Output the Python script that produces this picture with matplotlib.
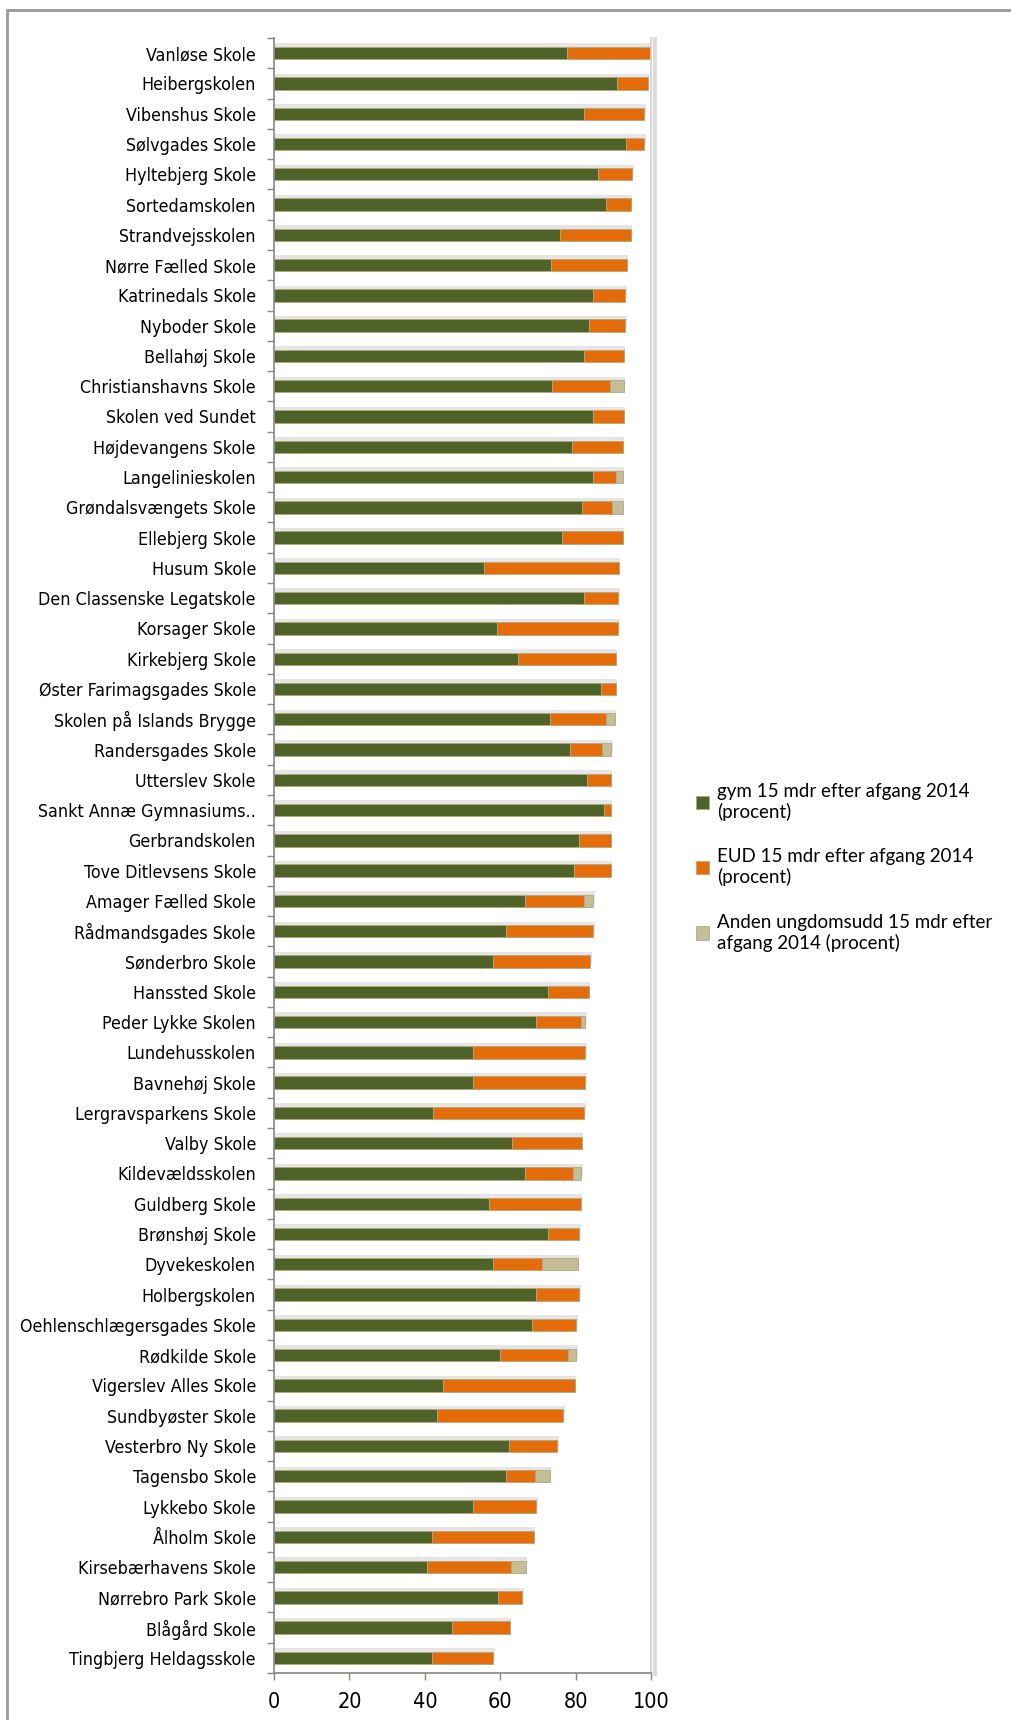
import matplotlib.pyplot as plt
import matplotlib.patheffects as pe
from matplotlib import font_manager
from matplotlib.patches import Patch, Rectangle
import numpy as np

skoler = [
    'Vanløse Skole', 'Heibergskolen', 'Vibenshus Skole', 'Sølvgades Skole',
    'Hyltebjerg Skole', 'Sortedamskolen', 'Strandvejsskolen', 'Nørre Fælled Skole',
    'Katrinedals Skole', 'Nyboder Skole', 'Bellahøj Skole', 'Christianshavns Skole',
    'Skolen ved Sundet', 'Højdevangens Skole', 'Langelinieskolen',
    'Grøndalsvængets Skole', 'Ellebjerg Skole', 'Husum Skole',
    'Den Classenske Legatskole', 'Korsager Skole', 'Kirkebjerg Skole',
    'Øster Farimagsgades Skole', 'Skolen på Islands Brygge', 'Randersgades Skole',
    'Utterslev Skole', 'Sankt Annæ Gymnasiums..', 'Gerbrandskolen',
    'Tove Ditlevsens Skole', 'Amager Fælled Skole', 'Rådmandsgades Skole',
    'Sønderbro Skole', 'Hanssted Skole', 'Peder Lykke Skolen', 'Lundehusskolen',
    'Bavnehøj Skole', 'Lergravsparkens Skole', 'Valby Skole', 'Kildevældsskolen',
    'Guldberg Skole', 'Brønshøj Skole', 'Dyvekeskolen', 'Holbergskolen',
    'Oehlenschlægersgades Skole', 'Rødkilde Skole', 'Vigerslev Alles Skole',
    'Sundbyøster Skole', 'Vesterbro Ny Skole', 'Tagensbo Skole', 'Lykkebo Skole',
    'Ålholm Skole', 'Kirsebærhavens Skole', 'Nørrebro Park Skole', 'Blågård Skole',
    'Tingbjerg Heldagsskole',
]

gym = [77.6, 91.0, 82.1, 93.4, 85.9, 88.1, 75.8, 73.4, 84.7, 83.5, 82.3, 73.7,
       84.7, 79.0, 84.7, 81.7, 76.4, 55.7, 82.1, 59.1, 64.6, 86.8, 73.3, 78.5,
       82.9, 87.6, 80.9, 79.6, 66.6, 61.6, 58.2, 72.6, 69.5, 52.7, 52.7, 42.1,
       63.2, 66.6, 56.9, 72.6, 58.1, 69.5, 68.3, 59.9, 44.7, 43.1, 62.4, 61.5,
       52.7, 41.8, 40.6, 59.4, 47.3, 41.8]

eud = [22.4, 8.2, 16.1, 4.8, 9.1, 6.5, 18.8, 20.2, 8.5, 9.7, 10.5, 15.4,
       8.1, 13.5, 6.0, 8.0, 16.1, 35.8, 9.2, 32.2, 26.1, 3.9, 14.8, 8.6,
       6.5, 1.8, 8.5, 9.8, 15.7, 23.1, 25.7, 10.9, 11.9, 29.9, 29.9, 40.2,
       18.5, 12.8, 24.5, 8.4, 13.1, 11.5, 11.9, 18.0, 35.1, 33.6, 12.7, 7.7,
       16.9, 27.1, 22.3, 6.5, 15.2, 16.4]

anden = [0, 0, 0, 0, 0, 0, 0, 0, 0, 0, 0, 3.7,
         0, 0, 1.8, 2.8, 0, 0, 0, 0, 0, 0, 2.2, 2.4,
         0, 0, 0, 0, 2.4, 0, 0, 0, 1.2, 0, 0, 0,
         0, 2.1, 0, 0, 9.3, 0, 0, 2.3, 0, 0, 0, 4.0,
         0, 0, 3.9, 0, 0, 0]

serier = ['gym 15 mdr efter afgang 2014\n(procent)',
          'EUD 15 mdr efter afgang 2014\n(procent)',
          'Anden ungdomsudd 15 mdr efter\nafgang 2014 (procent)']
farver = ['#4f6228', '#e46c0a', '#c4bd97']

# smal skrift til akserne, hvis den findes
navne = {f.name for f in font_manager.fontManager.ttflist}
smal = [(f.name, f.stretch) for f in font_manager.fontManager.ttflist]
if 'Liberation Sans Narrow' in navne:
    label_prop = dict(family=['Liberation Sans Narrow', 'DejaVu Sans'], fontstretch='normal')
    ystr, xstr = 13.5, 15
elif any(n == 'DejaVu Sans' and s in ('condensed', 'semi-condensed', 'semi-expanded') or
         (n == 'DejaVu Sans' and isinstance(s, int) and s < 500) for n, s in smal):
    label_prop = dict(family=['DejaVu Sans'], fontstretch='condensed')
    ystr, xstr = 12.8, 15.5
else:
    label_prop = dict(family=['Liberation Sans', 'DejaVu Sans'], fontstretch='normal')
    ystr, xstr = 12.3, 14.5
legend_font = ['Lato', 'DejaVu Sans']

fig = plt.figure(figsize=(10.11, 17.20), dpi=100)
ax = fig.add_axes([0.271, 0.0273, 0.373, 0.9506])

y = np.arange(len(skoler))
skygge = [pe.SimplePatchShadow(offset=(1, 2.5), shadow_rgbFace='#9a9a9a', alpha=0.25),
          pe.Normal()]

venstre = np.zeros(len(skoler))
for vaerdier, farve, navn in zip([gym, eud, anden], farver, serier):
    v = np.array(vaerdier)
    bars = ax.barh(y, v, left=venstre, height=0.41, color=farve,
                   edgecolor='#b3a87a', linewidth=0.6, label=navn)
    for b, val in zip(bars, v):
        if val > 0:
            b.set_path_effects(skygge)
    venstre = venstre + v

ax.set_xlim(0, 100)
ax.set_ylim(len(skoler) - 0.5, -0.5)

ax.set_yticks(y)
ax.set_yticklabels(skoler, fontsize=ystr, **label_prop)
ax.set_yticks(np.arange(len(skoler) + 1) - 0.5, minor=True)
ax.tick_params(axis='y', which='major', length=0, pad=13)
ax.tick_params(axis='y', which='minor', length=5, color='#868686', width=1)

ax.set_xticks(np.arange(0, 101, 20))
ax.set_xticklabels([str(t) for t in range(0, 101, 20)], fontsize=xstr, **label_prop)
ax.tick_params(axis='x', length=5, color='#868686', width=1, pad=9)

for side in ['left', 'bottom']:
    ax.spines[side].set_color('#868686')
    ax.spines[side].set_linewidth(1.2)
ax.spines['top'].set_visible(False)
ax.spines['right'].set_color('#d0d0d0')
ax.spines['right'].set_linewidth(1.2)
ax.spines['right'].set_path_effects(
    [pe.SimpleLineShadow(offset=(2.5, -1), shadow_color='#9a9a9a', alpha=0.35, linewidth=3),
     pe.Normal()])

# ramme om hele figuren
fig.patches.append(Rectangle((7 / 1011, -0.01), 1.02, 1 - 10 / 1720 + 0.01,
                             transform=fig.transFigure, fill=False,
                             edgecolor='#9a9a9a', linewidth=2))

handles = [Patch(facecolor=f, edgecolor='#b3a87a', linewidth=0.6) for f in farver]
fig.legend(handles, serier, loc='upper left', bbox_to_anchor=(0.688, 1 - 783 / 1720),
           frameon=False, prop={'family': legend_font, 'size': 13.5},
           handlelength=0.7, handleheight=0.7, handletextpad=0.45,
           labelspacing=1.45, borderpad=0, borderaxespad=0)

fig.savefig('out.png', dpi=100)
